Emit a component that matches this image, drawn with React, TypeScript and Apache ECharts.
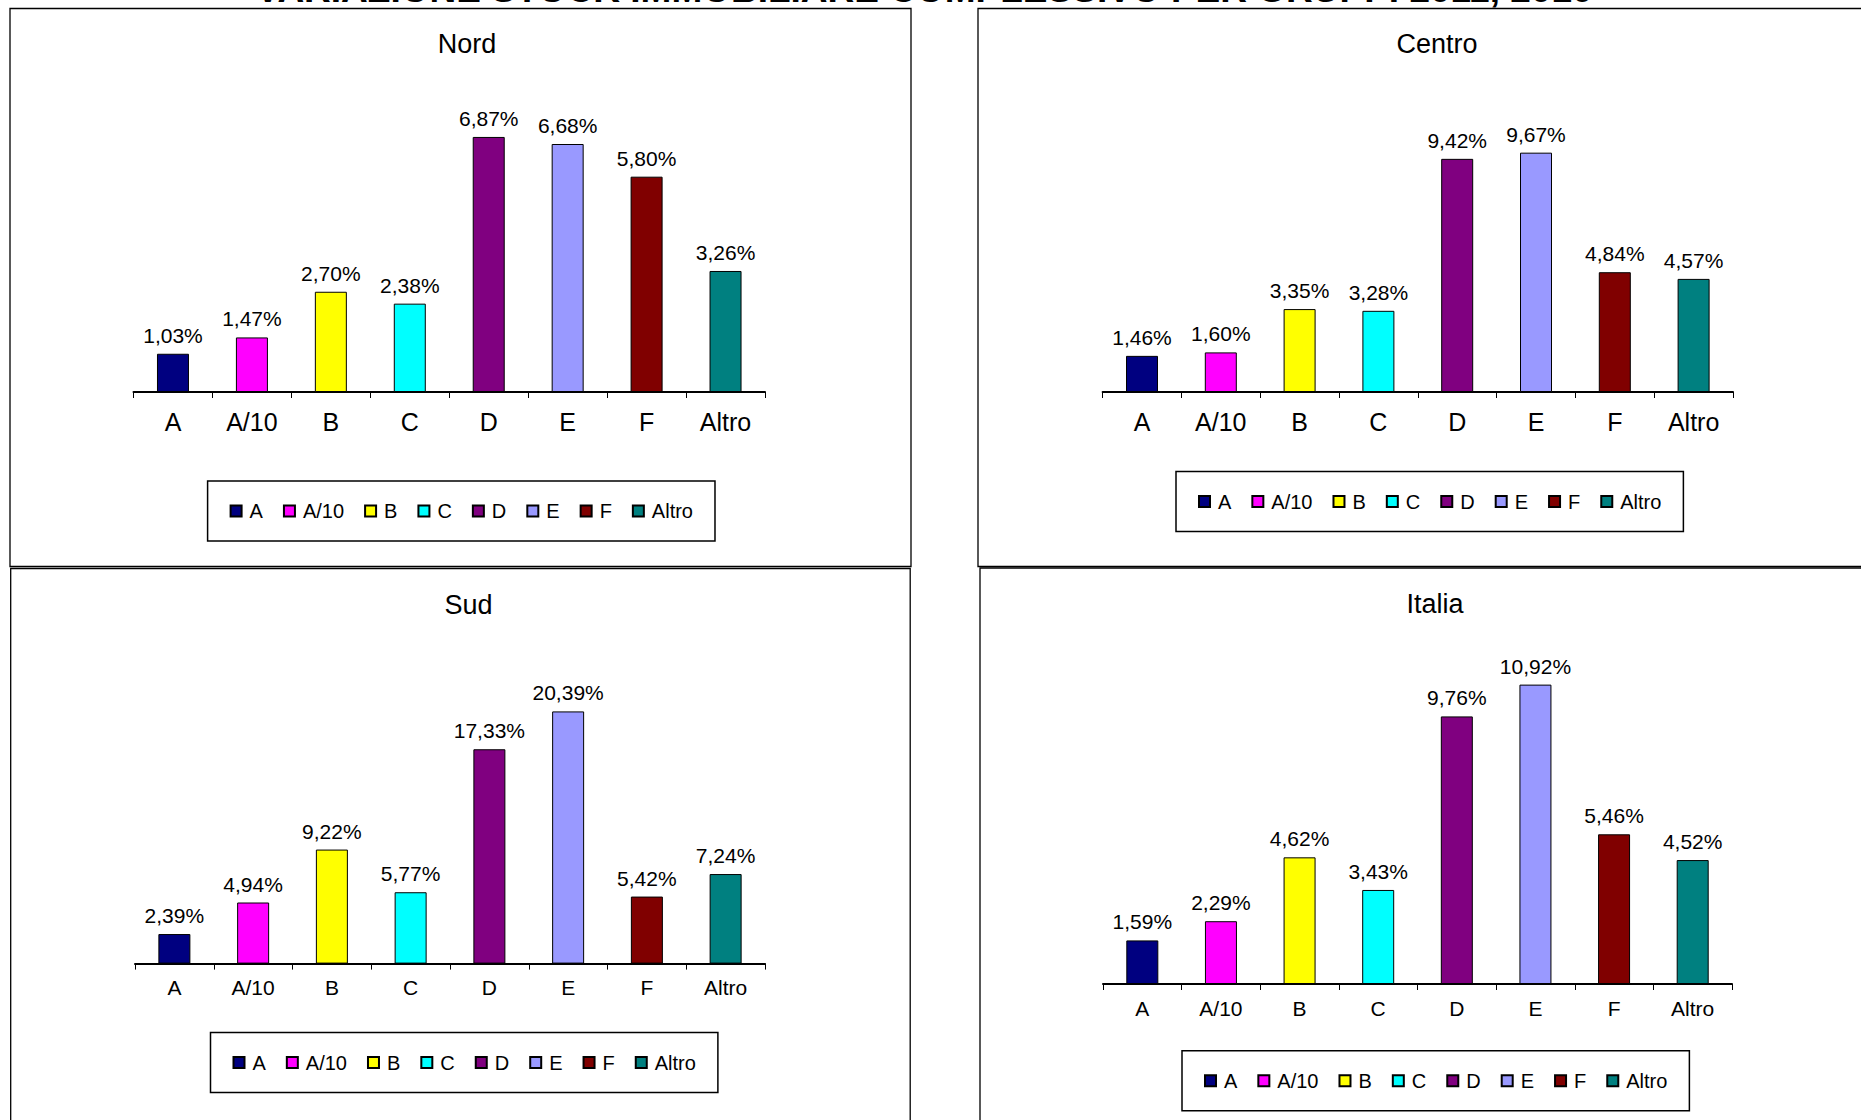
import React, { useEffect, useRef } from "react";
import * as echarts from "echarts";

// Building-stock categories and their fill colours
const CATEGORIES = ["A", "A/10", "B", "C", "D", "E", "F", "Altro"];
const COLORS = ["#000080", "#FF00FF", "#FFFF00", "#00FFFF", "#800080", "#9999FF", "#800000", "#008080"];

// Percentage change per category, by area
const NORD = [1.03, 1.47, 2.7, 2.38, 6.87, 6.68, 5.8, 3.26];
const CENTRO = [1.46, 1.6, 3.35, 3.28, 9.42, 9.67, 4.84, 4.57];
const SUD = [2.39, 4.94, 9.22, 5.77, 17.33, 20.39, 5.42, 7.24];
const ITALIA = [1.59, 2.29, 4.62, 3.43, 9.76, 10.92, 5.46, 4.52];

const AREA_NAMES = ["Nord", "Centro", "Sud", "Italia"];
const AREA_VALUES = [NORD, CENTRO, SUD, ITALIA];
const AXIS_MAX = [8, 12, 25, 12];

const HEADING = "VARIAZIONE STOCK IMMOBILIARE COMPLESSIVO PER GRUPPI 2011, 2010";

const FONT = "'Liberation Sans', Arial, sans-serif";

// Panel geometry (pixels)
const PANELS = [
  { box: [10, 8.5, 901, 558], title: [467, 44], grid: [133.5, 95, 631.5, 297], axisFont: 25, axisMargin: 17, legend: [207.6, 481] },
  { box: [978, 8.5, 900, 558], title: [1437, 44], grid: [1102.6, 95, 630.4, 297], axisFont: 25, axisMargin: 17, legend: [1176, 471.6] },
  { box: [10.7, 568.5, 899.5, 600], title: [468.6, 604.6], grid: [135, 654.4, 630, 309.2], axisFont: 21, axisMargin: 13, legend: [210.5, 1032.5] },
  { box: [980, 568, 900, 600], title: [1435, 603.6], grid: [1103, 655, 629, 329], axisFont: 21, axisMargin: 14, legend: [1182, 1050.7] },
];

const fmt = (v: number) => v.toFixed(2).replace(".", ",") + "%";

function buildOption() {
  const grids: any[] = [];
  const xAxes: any[] = [];
  const yAxes: any[] = [];
  const legends: any[] = [];
  const series: any[] = [];
  const graphics: any[] = [];

  PANELS.forEach((p, i) => {
    const [gl, gt, gw, gh] = p.grid;
    grids.push({ left: gl, top: gt, width: gw, height: gh, containLabel: false });
    xAxes.push({
      type: "category",
      gridIndex: i,
      data: CATEGORIES,
      axisLine: { show: true, lineStyle: { color: "#000", width: 2 } },
      axisTick: { show: true, length: 6, lineStyle: { color: "#000", width: 1 } },
      axisLabel: { color: "#000", fontSize: p.axisFont, fontFamily: FONT, margin: p.axisMargin, interval: 0 },
      splitLine: { show: false },
    });
    yAxes.push({
      type: "value",
      gridIndex: i,
      min: 0,
      max: AXIS_MAX[i],
      show: false,
      splitLine: { show: false },
    });
    legends.push({
      show: true,
      data: CATEGORIES,
      left: p.legend[0],
      top: p.legend[1],
      orient: "horizontal",
      padding: [20, 22],
      itemGap: 20,
      itemWidth: 11,
      itemHeight: 11,
      icon: "rect",
      borderColor: "#000",
      borderWidth: 1.5,
      borderRadius: 0,
      backgroundColor: "#fff",
      selectedMode: false,
      textStyle: { color: "#000", fontSize: 20, fontFamily: FONT, padding: [0, 0, 0, 3] },
    });

    const values = AREA_VALUES[i];
    CATEGORIES.forEach((cat, c) => {
      series.push({
        type: "bar",
        name: cat,
        xAxisIndex: i,
        yAxisIndex: i,
        stack: "area" + i,
        barWidth: 32,
        data: CATEGORIES.map((_, j) => (j === c ? values[c] : "-")),
        itemStyle: { color: COLORS[c], borderColor: "#000", borderWidth: 1 },
        label: {
          show: true,
          position: "top",
          distance: 8,
          color: "#000",
          fontSize: 21,
          fontFamily: FONT,
          formatter: (d: any) => fmt(d.value),
        },
        emphasis: { disabled: true },
      });
    });

    const [bx, by, bw, bh] = p.box;
    graphics.push({
      type: "rect",
      shape: { x: bx, y: by, width: bw, height: bh },
      style: { fill: "none", stroke: "#000", lineWidth: 1.3 },
      silent: true,
      z: -10,
    });
    graphics.push({
      type: "text",
      x: p.title[0],
      y: p.title[1],
      style: {
        text: AREA_NAMES[i],
        fill: "#000",
        fontSize: 27,
        fontFamily: FONT,
        align: "center",
        verticalAlign: "middle",
      },
      silent: true,
    });
  });

  // Page heading, sitting above the top edge of the page
  graphics.push({
    type: "text",
    x: 924,
    y: -11,
    style: {
      text: HEADING,
      fill: "#000",
      fontSize: 37,
      fontWeight: "bold",
      fontFamily: FONT,
      align: "center",
      verticalAlign: "middle",
    },
    silent: true,
  });

  return {
    animation: false,
    backgroundColor: "#fff",
    tooltip: { show: false },
    grid: grids,
    xAxis: xAxes,
    yAxis: yAxes,
    legend: legends,
    series,
    graphic: graphics,
  };
}

export default function App() {
  const ref = useRef<HTMLDivElement>(null);

  useEffect(() => {
    document.body.style.margin = "0";
    if (!ref.current) return;
    const chart = echarts.init(ref.current, undefined, { renderer: "svg" });
    chart.setOption(buildOption() as any);
    return () => chart.dispose();
  }, []);

  return (
    <div style={{ position: "fixed", left: 0, top: 0, width: 1861, height: 1120, background: "#fff" }}>
      <div ref={ref} style={{ width: 1861, height: 1120 }} />
    </div>
  );
}
